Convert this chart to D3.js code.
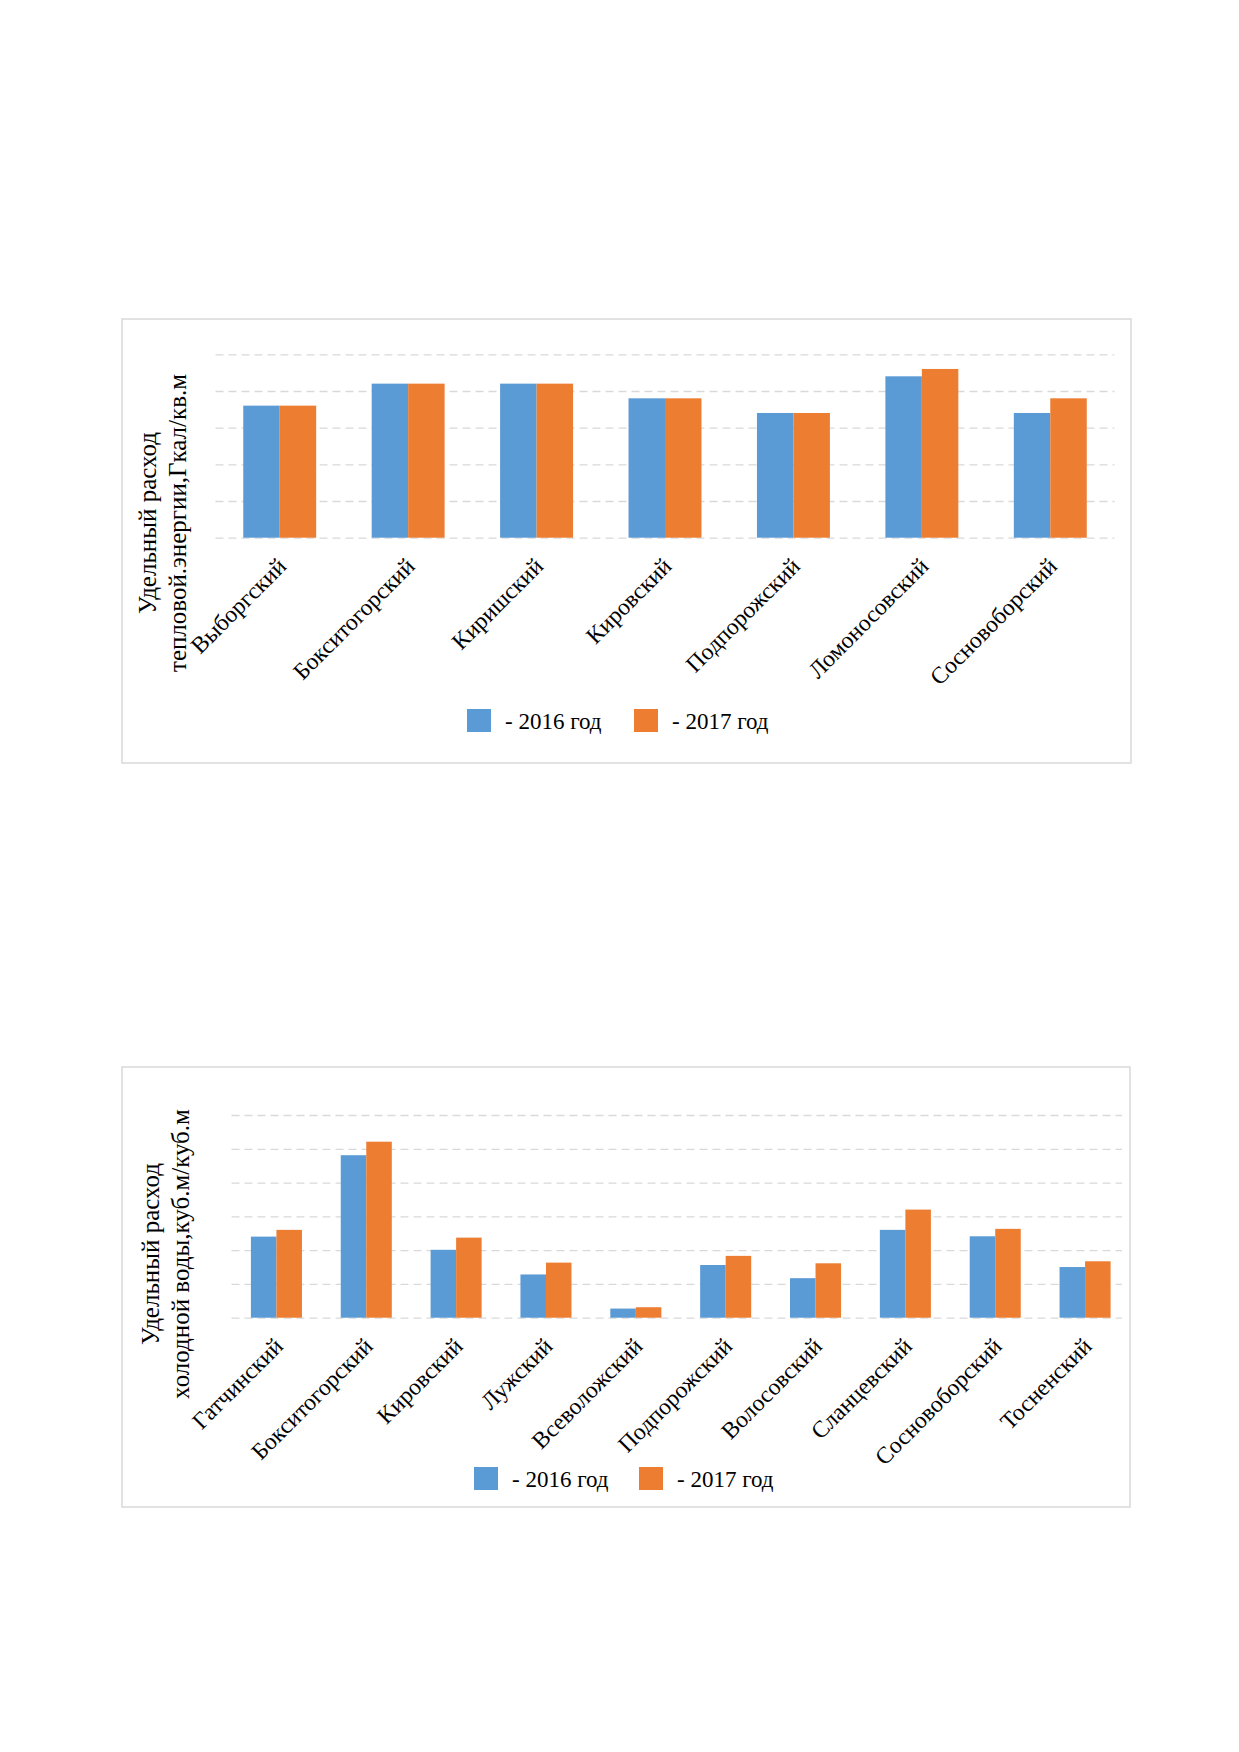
<!DOCTYPE html>
<meta charset="utf-8">
<head>
  <title>Удельный расход</title>
  <style>
  body { margin: 0; background: #fff; }
  text { font-family: "Liberation Serif", "Times New Roman", serif; fill: #000; }
  .grid line { stroke: #d9d9d9; stroke-dasharray: 8,5; stroke-width: 1.3px; }
  .grid path { display: none; }
  </style>
</head>
<html>
  <body>
    <svg width="1239" height="1752"></svg>
  </body>
</html>
<script src="https://d3js.org/d3.v7.min.js"></script>
<script>
// chart 1 - тепловая энергия
var heatDistricts = ["Выборгский", "Бокситогорский", "Киришский", "Кировский", "Подпорожский", "Ломоносовский", "Сосновоборский"];
var heat2016 = [0.18, 0.21, 0.21, 0.19, 0.17, 0.22, 0.17];
var heat2017 = [0.18, 0.21, 0.21, 0.19, 0.17, 0.23, 0.19];
var heatTicks = [0, 0.05, 0.10, 0.15, 0.20, 0.25];

// chart 2 - холодная вода
var waterDistricts = ["Гатчинский", "Бокситогорский", "Кировский", "Лужский", "Всеволожский", "Подпорожский", "Волосовский", "Сланцевский", "Сосновоборский", "Тосненский"];
var water2016 = [0.240, 0.481, 0.201, 0.128, 0.027, 0.156, 0.117, 0.260, 0.241, 0.150];
var water2017 = [0.260, 0.521, 0.237, 0.163, 0.031, 0.183, 0.161, 0.320, 0.263, 0.167];
var waterTicks = [0, 0.1, 0.2, 0.3, 0.4, 0.5, 0.6];

var seriesNames = ["- 2016 год", "- 2017 год"];
var colors = ["#5b9bd5", "#ed7d31"];

var svg = d3.select("svg");

function drawChart(o) {
  var g = svg.append("g");

  g.append("rect")
      .attr("x", o.frame[0]).attr("y", o.frame[1])
      .attr("width", o.frame[2]).attr("height", o.frame[3])
      .attr("fill", "#fff")
      .attr("stroke", "#d9d9d9")
      .attr("stroke-width", 1.5);

  var x0 = d3.scaleBand()
      .domain(o.cats)
      .range([o.left, o.right])
      .paddingInner(0.432)
      .paddingOuter(0.216);

  var x1 = d3.scaleBand()
      .domain([0, 1])
      .range([0, x0.bandwidth()]);

  var y = d3.scaleLinear()
      .domain([0, o.ticks[o.ticks.length - 1]])
      .range([o.bottom, o.top]);

  g.append("g")
      .attr("class", "grid")
      .attr("transform", "translate(" + o.left + ",0)")
      .call(d3.axisLeft(y).tickValues(o.ticks).tickSize(-(o.gridRight - o.left)).tickFormat(""));

  var rows = o.cats.map(function(c, i) { return {cat: c, vals: [o.s1[i], o.s2[i]]}; });

  g.selectAll(".grp")
      .data(rows)
    .enter().append("g")
      .attr("transform", function(d) { return "translate(" + x0(d.cat) + ",0)"; })
    .selectAll("rect")
      .data(function(d) { return d.vals; })
    .enter().append("rect")
      .attr("x", function(d, i) { return x1(i); })
      .attr("y", function(d) { return y(d); })
      .attr("width", x1.bandwidth())
      .attr("height", function(d) { return o.bottom - y(d); })
      .attr("fill", function(d, i) { return colors[i]; });

  // category labels, rotated 45
  g.selectAll(".lbl")
      .data(o.cats)
    .enter().append("text")
      .attr("transform", function(d) {
        return "translate(" + (x0(d) + x0.bandwidth() / 2 + 8) + "," + (o.bottom + 30) + ") rotate(-45)";
      })
      .attr("text-anchor", "end")
      .attr("font-size", 23.5)
      .text(function(d) { return d; });

  // axis title
  var t = g.append("text")
      .attr("transform", "translate(" + o.titleX + "," + o.titleY + ") rotate(-90)")
      .attr("text-anchor", "middle")
      .attr("font-size", 25);
  t.append("tspan").attr("x", 0).attr("dy", 0).text(o.title[0]);
  t.append("tspan").attr("x", 0).attr("dy", 30).text(o.title[1]);

  // legend
  seriesNames.forEach(function(s, i) {
    g.append("rect")
        .attr("x", o.legend[i]).attr("y", o.legendY)
        .attr("width", 24).attr("height", 23)
        .attr("fill", colors[i]);
    g.append("text")
        .attr("x", o.legend[i] + 38).attr("y", o.legendY + 20)
        .attr("font-size", 23)
        .text(s);
  });
}

drawChart({
  frame: [122, 319, 1009, 444],
  cats: heatDistricts, s1: heat2016, s2: heat2017, ticks: heatTicks,
  left: 215.5, right: 1114.5, gridRight: 1114.5, top: 354.3, bottom: 537.7,
  title: ["Удельный расход", "тепловой.энергии,Гкал/кв.м"], titleX: 156, titleY: 523,
  legend: [467, 634], legendY: 709
});

drawChart({
  frame: [122, 1067, 1008, 440],
  cats: waterDistricts, s1: water2016, s2: water2017, ticks: waterTicks,
  left: 231.5, right: 1130, gridRight: 1122, top: 1115, bottom: 1317.7,
  title: ["Удельный расход", "холодной воды,куб.м/куб.м"], titleX: 159, titleY: 1254,
  legend: [474, 639], legendY: 1467
});
</script>
